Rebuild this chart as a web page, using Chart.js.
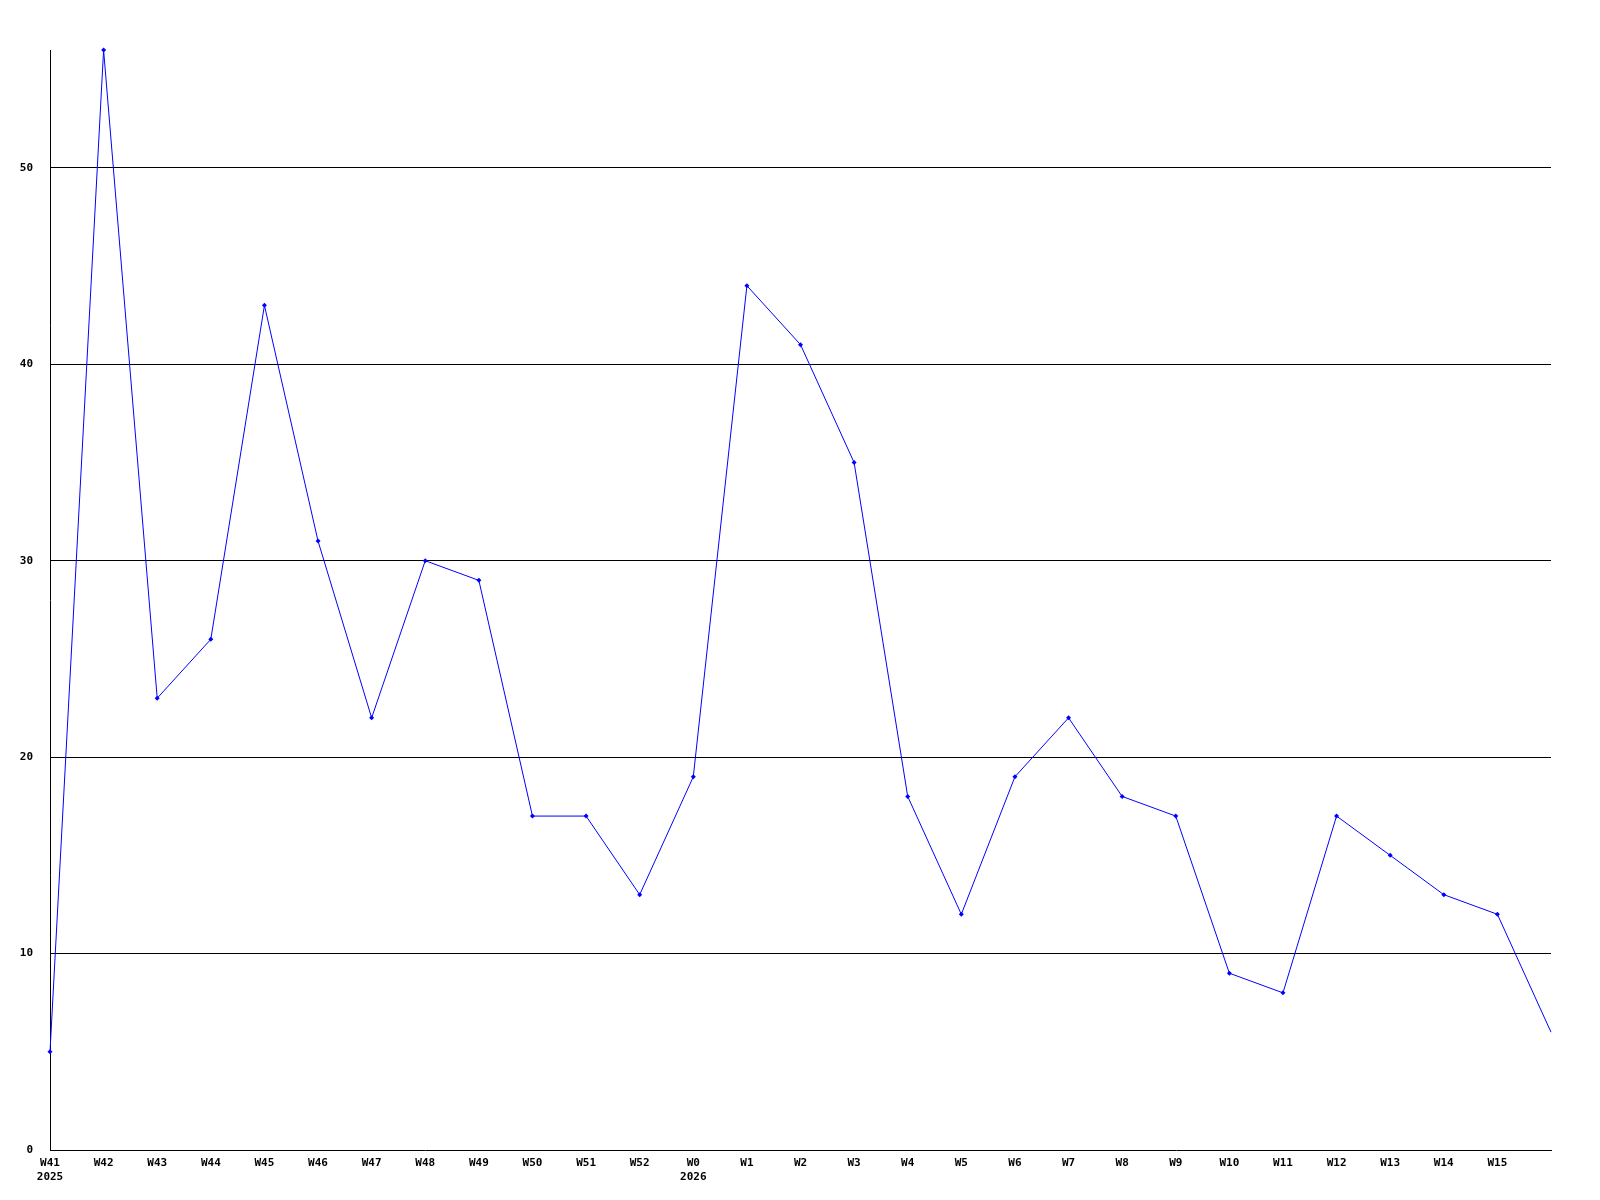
<!DOCTYPE html>
<html>
<head>
<meta charset="utf-8">
<script src="https://cdn.jsdelivr.net/npm/chart.js@4/dist/chart.umd.min.js"></script>
<style>
  html, body { margin: 0; padding: 0; background: #fff; }
  #wrap { width: 1600px; height: 1200px; }
</style>
</head>
<body>
<div id="wrap"><canvas id="chart" width="1600" height="1200"></canvas></div>
<script>
// weeks, with the year under the first week of each year
const weeks = [
  "W41", "W42", "W43", "W44", "W45", "W46", "W47", "W48", "W49", "W50",
  "W51", "W52", "W0", "W1", "W2", "W3", "W4", "W5", "W6", "W7",
  "W8", "W9", "W10", "W11", "W12", "W13", "W14", "W15", "",
];
const years = { W41: "2025", W0: "2026" };
const counts = [
  5, 56, 23, 26, 43, 31, 22, 30, 29, 17,
  17, 13, 19, 44, 41, 35, 18, 12, 19, 22,
  18, 17, 9, 8, 17, 15, 13, 12, 6,
];
const yTicks = [0, 10, 20, 30, 40, 50];
const yMax = 56;

const labels = weeks.map((w) => (years[w] ? [w, years[w]] : w));
const font = { family: "'DejaVu Sans Mono', monospace", size: 11, weight: "bold" };

const ctx = document.getElementById("chart");
new Chart(ctx, {
  type: "line",
  data: {
    labels,
    datasets: [
      {
        data: counts,
        borderColor: "#0000ff",
        backgroundColor: "#0000ff",
        borderWidth: 1,
        tension: 0,
        clip: false,
        pointStyle: "rectRot",
        pointRadius: counts.map((_, i) => (i === counts.length - 1 ? 0 : 2.5)),
        pointBorderWidth: 0,
      },
    ],
  },
  options: {
    responsive: false,
    animation: false,
    layout: { padding: { top: 50, right: 49, left: 0, bottom: 0 } },
    plugins: { legend: { display: false }, tooltip: { enabled: false } },
    scales: {
      x: {
        offset: false,
        grid: { display: false, drawTicks: false },
        border: { display: true, color: "#000", width: 1 },
        ticks: {
          autoSkip: false,
          maxRotation: 0,
          minRotation: 0,
          color: "#000",
          font,
          padding: 7,
        },
        afterFit: (scale) => {
          scale.height = 50;
        },
      },
      y: {
        min: 0,
        max: yMax,
        afterBuildTicks: (scale) => {
          scale.ticks = yTicks.map((v) => ({ value: v }));
        },
        grid: {
          color: (c) => (c.tick && c.tick.value === 0 ? "rgba(0,0,0,0)" : "#000"),
          lineWidth: 1,
          drawTicks: false,
        },
        border: { display: true, color: "#000", width: 1 },
        ticks: {
          color: "#000",
          font,
          padding: 17,
        },
        afterFit: (scale) => {
          scale.width = 50;
        },
      },
    },
  },
});
</script>
</body>
</html>
